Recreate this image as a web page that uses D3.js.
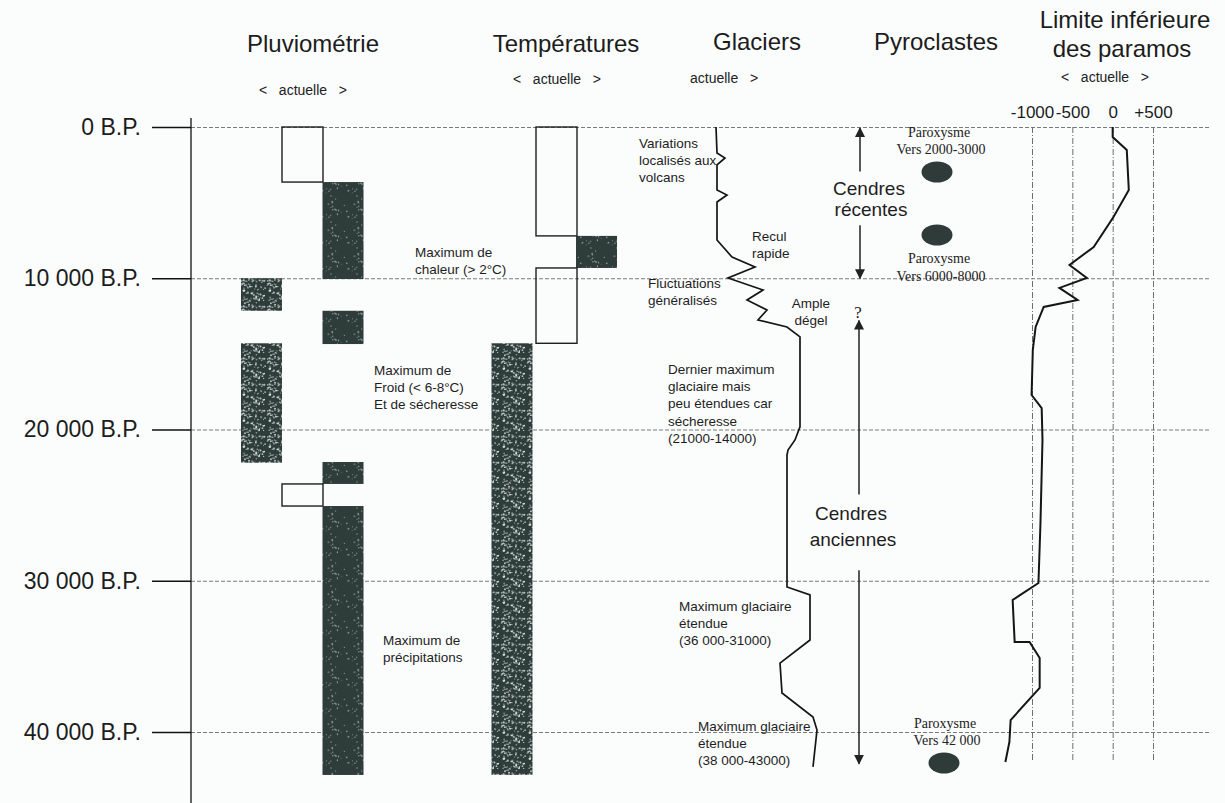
<!DOCTYPE html>
<html>
<head>
<meta charset="utf-8">
<title>Paléoenvironnements</title>
<script src="https://cdn.jsdelivr.net/npm/d3@7"></script>
<style>
  body{margin:0;background:#fbfcfc;}
  svg{display:block;font-family:"Liberation Sans",Arial,sans-serif;}
  .title{font-size:24px;fill:#1c1c1c;text-anchor:middle;}
  .sub{font-size:14px;fill:#222;}
  .note{font-size:13.5px;fill:#1e1e1e;}
  .serif{font-family:"Liberation Serif","Times New Roman",serif;font-size:14px;fill:#222;text-anchor:middle;}
  .big{font-size:19px;fill:#1e1e1e;text-anchor:middle;}
  .grid line{stroke:#7a7a7a;stroke-dasharray:4,2;}
  .grid path{display:none;}
  .vgrid line{stroke:#6e6e6e;stroke-dasharray:6,2,1,2;}
  .vgrid path{display:none;}
  .vgrid text{font-size:17px;fill:#1c1c1c;font-family:"Liberation Sans",Arial,sans-serif;}
  .ages line{stroke:#111;stroke-width:1.3;}
  .ages path{display:none;}
  .ages text{font-size:23px;fill:#1c1c1c;font-family:"Liberation Sans",Arial,sans-serif;}
</style>
</head>
<body>
<script>
// ages (années B.P.)
var ageTicks = [0, 10000, 20000, 30000, 40000];
var ageLabels = ["0 B.P.", "10 000 B.P.", "20 000 B.P.", "30 000 B.P.", "40 000 B.P."];

// pluviométrie : [écart (-1 sec, 0 actuelle, 1 humide), début, fin]
var pluvioBars = [[0, 0, 3640], [1, 3640, 10050], [-1, 10000, 12150], [1, 12150, 14350],
                  [-1, 14300, 22200], [1, 22150, 23600], [0, 23600, 25060], [1, 25060, 42840]];
// températures : [écart (-1 froid, 0 actuelle, 1 chaud), début, fin]
var tempBars = [[0, 0, 7200], [1, 7200, 9320], [0, 9320, 14300], [-1, 14300, 42840]];

// glaciers : avancée (unités relatives) selon l'âge
var glacierAge = [0, 1720, 2050, 2510, 4170, 4500, 4960, 7470, 8600, 9260, 9980, 10780, 11440,
                  12100, 12760, 13220, 13880, 19830, 20690, 21360, 21690, 30410, 30940, 33920,
                  35440, 37420, 39010, 39870, 42310];
var glacierExtent = [0, 0.1, 0.9, 0.1, 0.1, 1.1, 0.1, 0.1, 1.6, 3.9, 1.2, 4.7, 3.1,
                     5.1, 4.2, 7.1, 8.4, 8.4, 7.9, 7.2, 7.1, 7.1, 9.4, 9.4,
                     6.4, 6.6, 9.7, 10.1, 9.7];

// limite inférieure des paramos (m) selon l'âge
var paramosAge = [0, 660, 1520, 4170, 5950, 7930, 9120, 9980, 10640, 11440, 11900, 13220, 14740,
                  17720, 18580, 20690, 26180, 30150, 31270, 34050, 34050, 35110, 37090, 39210,
                  40660, 41980];
var paramosShift = [0, 0, 175, 200, 10, -235, -535, -320, -660, -435, -855, -955, -990,
                    -1005, -880, -870, -895, -920, -1240, -1215, -1030, -905, -905, -1265,
                    -1280, -1330];
var paramosTicks = [-1000, -500, 0, 500];
var paramosLabels = ["-1000", "-500", "0", "+500"];

// pyroclastes
var paroxysmAge = [2975, 7140, 42050];
var paroxysmText = ["Vers 2000-3000", "Vers 6000-8000", "Vers 42 000"];

var width = 1225, height = 803;
var svg = d3.select("body").append("svg")
    .attr("width", width)
    .attr("height", height);

// motifs pointillés des barres
var defs = svg.append("defs");
var seed = 11;
function rnd(){ seed = (seed * 16807) % 2147483647; return seed / 2147483647; }
function speckle(id, n, op){
  var p = defs.append("pattern").attr("id", id).attr("patternUnits", "userSpaceOnUse")
      .attr("width", 26).attr("height", 26);
  p.append("rect").attr("width", 26).attr("height", 26).attr("fill", "#2e3d3a");
  for (var i = 0; i < n; i++) {
    p.append("circle").attr("cx", rnd() * 26).attr("cy", rnd() * 26)
      .attr("r", 0.5 + rnd() * 0.6).attr("fill", "#dfe6e2").attr("opacity", op * (0.5 + rnd() * 0.5));
  }
}
speckle("heavy", 90, 0.9);
speckle("light", 22, 0.6);
defs.append("marker").attr("id", "head").attr("viewBox", "0 0 10 10")
    .attr("refX", 9).attr("refY", 5).attr("markerWidth", 10).attr("markerHeight", 11)
    .attr("markerUnits", "userSpaceOnUse").attr("orient", "auto")
  .append("path").attr("d", "M0,0L10,5L0,10Z").attr("fill", "#222");

// échelles
var y = d3.scaleLinear().domain([0, 40000]).range([127, 732]);
var pluvioX = d3.scaleLinear().domain([-1, 0, 1]).range([261.5, 302.5, 343]);
var tempX = d3.scaleLinear().domain([-1, 0, 1]).range([512, 556.5, 596.5]);
var glacierX = d3.scaleLinear().domain([0, 10]).range([716, 816]);
var paramosX = d3.scaleLinear().domain([-1000, 500]).range([1032, 1153]);
var axisX = 191;

// lignes horizontales pointillées
svg.append("g").attr("class", "grid")
   .attr("transform", "translate(" + axisX + ",0)")
   .call(d3.axisRight(y).tickValues(ageTicks).tickSize(1210 - axisX).tickFormat(""));

// lignes verticales des paramos + graduations
svg.append("g").attr("class", "vgrid")
   .attr("transform", "translate(0," + y(0) + ")")
   .call(d3.axisTop(paramosX).tickValues(paramosTicks)
          .tickSize(-(760 - y(0))).tickPadding(9)
          .tickFormat(function(d, i){ return paramosLabels[i]; }));

// axe des âges
svg.append("g").attr("class", "ages")
   .attr("transform", "translate(" + axisX + ",0)")
   .call(d3.axisLeft(y).tickValues(ageTicks).tickSize(39).tickPadding(11)
          .tickFormat(function(d, i){ return ageLabels[i]; }));
svg.append("line").attr("x1", axisX).attr("x2", axisX).attr("y1", 118).attr("y2", height)
   .attr("stroke", "#111").attr("stroke-width", 1.3);

// barres
function bars(data, xs, heavyLevel){
  svg.append("g").selectAll("rect").data(data).enter().append("rect")
     .attr("x", function(d){ return xs(d[0]) - 20.5; })
     .attr("width", 41)
     .attr("y", function(d){ return y(d[1]); })
     .attr("height", function(d){ return y(d[2]) - y(d[1]); })
     .attr("fill", function(d){ return d[0] === 0 ? "none" : (d[0] === heavyLevel ? "url(#heavy)" : "url(#light)"); })
     .attr("stroke", function(d){ return d[0] === 0 ? "#1e1e1e" : "none"; })
     .attr("stroke-width", 1.4);
}
bars(pluvioBars, pluvioX, -1);
bars(tempBars, tempX, -1);

// glaciers
var glacierLine = d3.line()
    .x(function(d){ return glacierX(d[1]); })
    .y(function(d){ return y(d[0]); });
svg.append("path")
   .attr("d", glacierLine(d3.zip(glacierAge, glacierExtent)))
   .attr("fill", "none").attr("stroke", "#151515").attr("stroke-width", 1.7)
   .attr("stroke-linejoin", "miter");

// paramos
var paramosLine = d3.line()
    .x(function(d){ return paramosX(d[1]); })
    .y(function(d){ return y(d[0]); });
svg.append("path")
   .attr("d", paramosLine(d3.zip(paramosAge, paramosShift)))
   .attr("fill", "none").attr("stroke", "#151515").attr("stroke-width", 2);

// pyroclastes
var pyro = svg.append("g");
pyro.selectAll("ellipse").data(paroxysmAge).enter().append("ellipse")
    .attr("cx", function(d, i){ return i === 2 ? 944 : 937; })
    .attr("cy", function(d){ return y(d); })
    .attr("rx", 15.5).attr("ry", 10.5).attr("fill", "#2e3b38");
paroxysmAge.forEach(function(a, i){
  var off = i === 1 ? [28, 46] : [-35, -18];
  var cx = i === 2 ? 945 : 939;
  pyro.append("text").attr("class", "serif").attr("x", cx).attr("y", y(a) + off[0]).text("Paroxysme");
  pyro.append("text").attr("class", "serif").attr("x", cx + 2).attr("y", y(a) + off[1]).text(paroxysmText[i]);
});

function arrow(x, y1, y2){
  pyro.append("line").attr("x1", x).attr("x2", x).attr("y1", y1).attr("y2", y2)
      .attr("stroke", "#222").attr("stroke-width", 1.5).attr("marker-end", "url(#head)");
}
arrow(860, y(2950), y(0) + 1);
arrow(860, y(6500), y(10000));
arrow(859, y(24300), y(12800));
arrow(859, y(29300), y(42100));
pyro.append("text").attr("class", "big").attr("x", 869).attr("y", 195).text("Cendres");
pyro.append("text").attr("class", "big").attr("x", 871).attr("y", 216).text("récentes");
pyro.append("text").attr("class", "big").attr("x", 851).attr("y", 520).text("Cendres");
pyro.append("text").attr("class", "big").attr("x", 853).attr("y", 546).text("anciennes");
pyro.append("text").attr("class", "serif").style("font-size", "17px").attr("x", 858).attr("y", 318).text("?");

// textes
function note(lines, x, y0, anchor){
  var t = svg.append("text").attr("class", "note").attr("x", x).attr("y", y0)
      .style("text-anchor", anchor || "start");
  lines.forEach(function(s, i){
    t.append("tspan").attr("x", x).attr("dy", i === 0 ? 0 : 17.2).text(s);
  });
}
note(["Maximum de", "chaleur (> 2°C)"], 415, 257);
note(["Maximum de", "Froid (< 6-8°C)", "Et de sécheresse"], 374, 375);
note(["Maximum de", "précipitations"], 383, 645);
note(["Variations", "localisés aux", "volcans"], 639, 148);
note(["Recul", "rapide"], 752, 241);
note(["Fluctuations", "généralisés"], 648, 288);
note(["Ample", "dégel"], 811, 308, "middle");
note(["Dernier maximum", "glaciaire mais", "peu étendues car", "sécheresse", "(21000-14000)"], 668, 374);
note(["Maximum glaciaire", "étendue", "(36 000-31000)"], 679, 611);
note(["Maximum glaciaire", "étendue", "(38 000-43000)"], 698, 731);

// titres
var titles = [["Pluviométrie", 313, 52], ["Températures", 566, 52], ["Glaciers", 757, 50],
              ["Pyroclastes", 936, 50], ["Limite inférieure", 1125, 28], ["des paramos", 1122, 57]];
titles.forEach(function(t){
  svg.append("text").attr("class", "title").attr("x", t[1]).attr("y", t[2]).text(t[0]);
});
var nb = "\u00a0\u00a0\u00a0";
svg.append("text").attr("class", "sub").attr("x", 303).attr("y", 95).style("text-anchor", "middle").text("<" + nb + "actuelle" + nb + ">");
svg.append("text").attr("class", "sub").attr("x", 557).attr("y", 84).style("text-anchor", "middle").text("<" + nb + "actuelle" + nb + ">");
svg.append("text").attr("class", "sub").attr("x", 690).attr("y", 83).text("actuelle" + nb + ">");
svg.append("text").attr("class", "sub").attr("x", 1105).attr("y", 82).style("text-anchor", "middle").text("<" + nb + "actuelle" + nb + ">");
</script>
</body>
</html>
